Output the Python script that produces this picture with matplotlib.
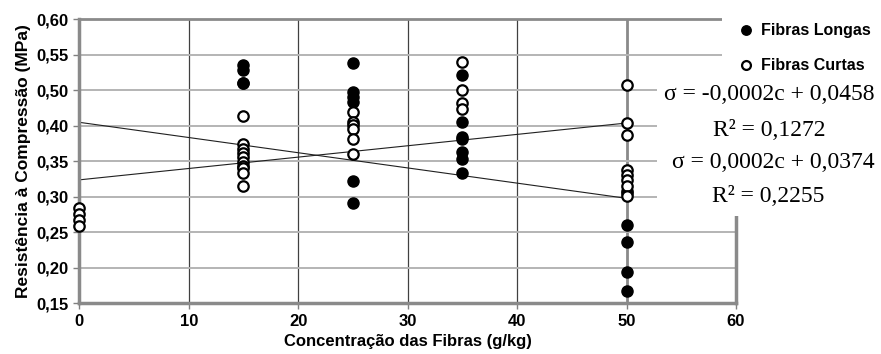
import numpy as np
import matplotlib.pyplot as plt
from matplotlib.patches import Rectangle

# Fibras Longas (filled)
conc_longas = [15]*4 + [25]*6 + [35]*7 + [50]*6
res_longas = [0.485, 0.479, 0.461, 0.460,
              0.488, 0.447, 0.440, 0.434, 0.323, 0.292,
              0.472, 0.406, 0.384, 0.381, 0.363, 0.354, 0.333,
              0.309, 0.305, 0.261, 0.237, 0.194, 0.167]

# Fibras Curtas (open)
conc_curtas = [0]*4 + [15]*10 + [25]*6 + [35]*4 + [50]*8
res_curtas = [0.285, 0.276, 0.267, 0.259,
              0.414, 0.374, 0.368, 0.362, 0.356, 0.349, 0.344, 0.340, 0.334, 0.315,
              0.419, 0.405, 0.401, 0.396, 0.381, 0.360,
              0.490, 0.451, 0.432, 0.424,
              0.457, 0.404, 0.387, 0.338, 0.331, 0.324, 0.316, 0.301]

# trend lines (start / end values)
trend_x = [0, 50]
trend_dec = [0.405, 0.298]
trend_inc = [0.324, 0.404]

yticks = [0.15, 0.20, 0.25, 0.30, 0.35, 0.40, 0.45, 0.50, 0.55]
ylabels = ["0,15", "0,20", "0,25", "0,30", "0,35", "0,40", "0,50", "0,55", "0,60"]
xticks = [0, 10, 20, 30, 40, 50, 60]

eq_texts = ["σ = -0,0002c + 0,0458", "R² = 0,1272", "σ = 0,0002c + 0,0374", "R² = 0,2255"]

plt.rcParams['font.family'] = ['Liberation Sans', 'DejaVu Sans']

fig = plt.figure(figsize=(8.81, 3.54), dpi=100)
ax = fig.add_axes([0.090, 0.1427, 0.7454, 0.8028])

ax.plot(trend_x, trend_dec, color='#202020', lw=0.8, zorder=2)
ax.plot(trend_x, trend_inc, color='#202020', lw=0.8, zorder=2)
ax.plot(conc_longas, res_longas, 'o', color='black', ms=8, zorder=3, label='Fibras Longas',
        clip_on=False)
ax.plot(conc_curtas, res_curtas, 'o', mfc='white', mec='black', mew=1.6, ms=7.5, zorder=4,
        label='Fibras Curtas', clip_on=False)

ax.set_xlim(0, 60)
ax.set_ylim(0.15, 0.55)
ax.set_xticks(xticks)
ax.set_yticks(yticks)
ax.set_yticklabels(ylabels)
ax.tick_params(labelsize=12, color='#808080', length=4, width=1)
for lab in ax.get_xticklabels() + ax.get_yticklabels():
    lab.set_fontweight('bold')

ax.yaxis.grid(True, color='#b4b4b4', lw=1.4)
ax.xaxis.grid(True, color='#404040', lw=0.9)
ax.xaxis.get_gridlines()[5].set(color='#8a8a8a', lw=2)
ax.set_axisbelow(True)
for s in ax.spines.values():
    s.set_color('#8a8a8a')
    s.set_linewidth(2.5)
ax.spines['top'].set_linewidth(2)

ax.set_xlabel('Concentração das Fibras (g/kg)', fontsize=12, fontweight='bold', labelpad=4)
ax.set_ylabel('Resistência à Compressão (MPa)', fontsize=12.5, fontweight='bold', labelpad=4)

# white boxes covering the right side like the original
W, H = 881.0, 354.0
fig.add_artist(Rectangle((722/W, 1 - 75/H), (W - 722)/W, 75/H, transform=fig.transFigure,
                         facecolor='white', edgecolor='none', zorder=5))
fig.add_artist(Rectangle((657/W, 1 - 216/H), (W - 657)/W, 142/H, transform=fig.transFigure,
                         facecolor='white', edgecolor='none', zorder=5))

leg = fig.legend(loc='upper left', bbox_to_anchor=(724/W, 1 - 9/H), frameon=False,
                 handlelength=1.0, handletextpad=0.4, labelspacing=1.25,
                 markerscale=0.85, prop={'weight': 'bold', 'size': 11.5})
leg.set_zorder(6)

eq_pos = [(769, 95), (769, 130), (773, 163), (768, 197)]
for t, (px, py) in zip(eq_texts, eq_pos):
    fig.text(px/W, 1 - py/H, t, ha='center', va='center', fontsize=17,
             family='Liberation Serif', zorder=6)

fig.savefig('out.png', dpi=100)
